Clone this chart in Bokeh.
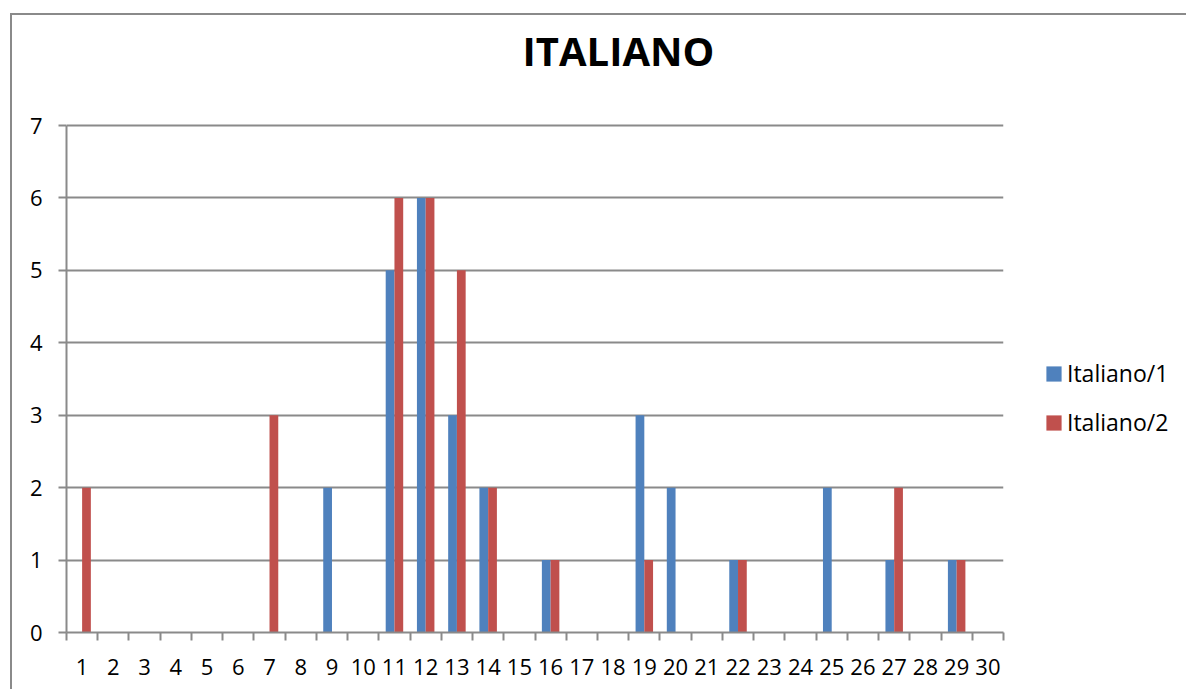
from bokeh.plotting import figure
from bokeh.models import (ColumnDataSource, Range1d, FixedTicker, Legend, LegendItem, Label)
from bokeh.transform import dodge
from bokeh.embed import file_html
from bokeh.resources import INLINE

# ---- data ----
categories = list(range(1, 31))
tick_labels = [str(c) for c in categories]
y_ticks = list(range(0, 8))
italiano_1 = [0, 0, 0, 0, 0, 0, 0, 0, 2, 0,
              5, 6, 3, 2, 0, 1, 0, 0, 3, 2,
              0, 1, 0, 0, 2, 0, 1, 0, 1, 0]
italiano_2 = [2, 0, 0, 0, 0, 0, 3, 0, 0, 0,
              6, 6, 5, 2, 0, 1, 0, 0, 1, 0,
              0, 1, 0, 0, 0, 0, 2, 0, 1, 0]
series_names = ["Italiano/1", "Italiano/2"]
title_text = "ITALIANO"

BLUE = "#4F81BD"
RED = "#C0504D"
GRAY = "#8a8a8a"
FONT = "Open Sans"

# layout: value axis spans PLOT_H px; the frame extends TOP_EXTRA px above it (room for the title)
PLOT_H = 507
TOP_EXTRA = 110
y_max = y_ticks[-1]
y_top = y_max * (PLOT_H + TOP_EXTRA) / PLOT_H

source = ColumnDataSource(dict(x=categories, s1=italiano_1, s2=italiano_2))

p = figure(
    width=1166, height=674,
    frame_width=937, frame_height=PLOT_H + TOP_EXTRA,
    x_range=Range1d(0.5, 30.5), y_range=Range1d(0, y_top),
    output_backend="svg", toolbar_location=None,
    min_border_left=54, min_border_top=0, min_border_bottom=57, min_border_right=175,
    background_fill_color="white", border_fill_color="white",
    outline_line_color=None,
    styles={"margin-left": "10px", "margin-top": "13px",
            "border-left": "2px solid #8a8a8a", "border-top": "2px solid #8a8a8a"},
)

bw = 0.28
r1 = p.quad(left=dodge("x", -bw, range=p.x_range), right=dodge("x", 0, range=p.x_range),
            top="s1", bottom=0, source=source, fill_color=BLUE, line_color=None)
r2 = p.quad(left=dodge("x", 0, range=p.x_range), right=dodge("x", bw, range=p.x_range),
            top="s2", bottom=0, source=source, fill_color=RED, line_color=None)

# title, centred over the whole chart area
title = Label(x=552, y=582, x_units="screen", y_units="screen", text=title_text,
              text_align="center", text_baseline="alphabetic",
              text_font=FONT, text_font_size="40px", text_font_style="bold",
              text_color="black")
p.add_layout(title)

# grid
p.xgrid.grid_line_color = None
p.ygrid.grid_line_color = GRAY
p.ygrid.grid_line_width = 2
p.ygrid.ticker = FixedTicker(ticks=y_ticks)

# y axis
p.yaxis.ticker = FixedTicker(ticks=y_ticks)
p.yaxis.bounds = (0, y_max)
p.yaxis.axis_line_color = GRAY
p.yaxis.axis_line_width = 2
p.yaxis.major_tick_line_color = GRAY
p.yaxis.major_tick_line_width = 2
p.yaxis.major_tick_out = 8
p.yaxis.major_tick_in = 0
p.yaxis.minor_tick_line_color = None
p.yaxis.major_label_standoff = 16
p.yaxis.major_label_text_font = FONT
p.yaxis.major_label_text_font_size = "22px"
p.yaxis.major_label_text_color = "black"

# x axis
p.xaxis.ticker = FixedTicker(ticks=categories,
                             minor_ticks=[c - 0.5 for c in categories] + [categories[-1] + 0.5])
p.xaxis.major_label_overrides = {c: l for c, l in zip(categories, tick_labels)}
p.xaxis.axis_line_color = GRAY
p.xaxis.axis_line_width = 2
p.xaxis.major_tick_line_color = None
p.xaxis.major_tick_out = 0
p.xaxis.major_tick_in = 0
p.xaxis.minor_tick_line_color = GRAY
p.xaxis.minor_tick_line_width = 2
p.xaxis.minor_tick_out = 8
p.xaxis.minor_tick_in = 0
p.xaxis.major_label_standoff = 18
p.xaxis.major_label_text_font = FONT
p.xaxis.major_label_text_font_size = "22px"
p.xaxis.major_label_text_color = "black"

# legend
legend = Legend(
    items=[LegendItem(label=series_names[0], renderers=[r1]),
           LegendItem(label=series_names[1], renderers=[r2])],
    location=(41, 194),
    padding=0, margin=0, spacing=17,
    glyph_width=19, glyph_height=19, label_height=30,
    label_standoff=4,
    label_text_font=FONT, label_text_font_size="23px", label_text_color="black",
    border_line_color=None, background_fill_alpha=0,
)
p.add_layout(legend, "right")

open("out.html", "w").write(file_html(p, INLINE))
